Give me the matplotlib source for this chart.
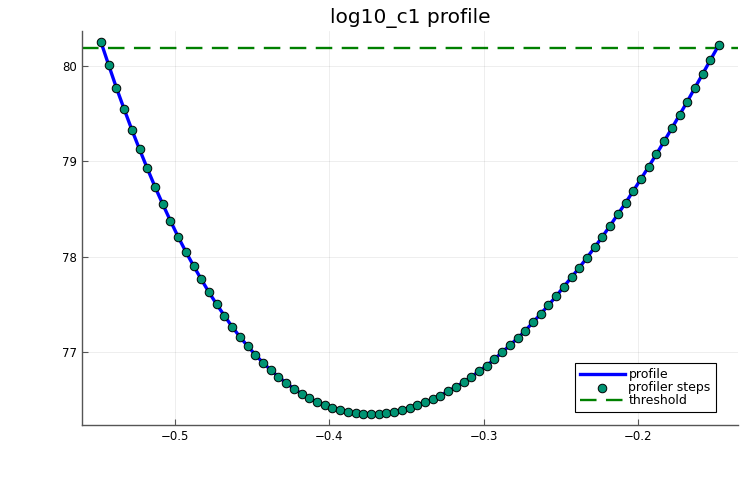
import matplotlib
matplotlib.use("Agg")
import matplotlib.pyplot as plt

# profile points (log10_c1 vs objective)
log10_c1 = [-0.5480, -0.5430, -0.5380, -0.5330, -0.5280, -0.5230, -0.5180, -0.5130,
            -0.5080, -0.5030, -0.4980, -0.4930, -0.4880, -0.4830, -0.4780, -0.4730,
            -0.4680, -0.4630, -0.4580, -0.4530, -0.4480, -0.4430, -0.4380, -0.4330,
            -0.4280, -0.4230, -0.4180, -0.4130, -0.4080, -0.4030, -0.3980, -0.3930,
            -0.3880, -0.3830, -0.3780, -0.3730, -0.3680, -0.3630, -0.3580, -0.3530,
            -0.3480, -0.3430, -0.3380, -0.3330, -0.3280, -0.3230, -0.3180, -0.3130,
            -0.3080, -0.3030, -0.2980, -0.2930, -0.2880, -0.2830, -0.2780, -0.2730,
            -0.2680, -0.2630, -0.2580, -0.2530, -0.2480, -0.2430, -0.2380, -0.2330,
            -0.2280, -0.2230, -0.2180, -0.2130, -0.2080, -0.2030, -0.1980, -0.1930,
            -0.1880, -0.1830, -0.1780, -0.1730, -0.1680, -0.1630, -0.1580, -0.1530,
            -0.1475]
objective = [80.252, 80.010, 79.772, 79.549, 79.332, 79.126, 78.927, 78.734,
             78.552, 78.377, 78.209, 78.052, 77.904, 77.763, 77.626, 77.500,
             77.381, 77.265, 77.160, 77.063, 76.972, 76.888, 76.811, 76.741,
             76.675, 76.615, 76.562, 76.517, 76.475, 76.444, 76.412, 76.388,
             76.371, 76.360, 76.353, 76.352, 76.353, 76.360, 76.371, 76.391,
             76.416, 76.441, 76.472, 76.504, 76.541, 76.588, 76.633, 76.682,
             76.738, 76.797, 76.856, 76.926, 76.997, 77.070, 77.144, 77.223,
             77.311, 77.399, 77.490, 77.584, 77.685, 77.784, 77.884, 77.989,
             78.098, 78.209, 78.325, 78.444, 78.563, 78.689, 78.815, 78.944,
             79.074, 79.210, 79.346, 79.486, 79.626, 79.772, 79.916, 80.063,
             80.220]
threshold = 80.19

plt.rcParams['font.family'] = ['DejaVu Sans']

fig = plt.figure(figsize=(7.5, 5), dpi=100)
ax = fig.add_axes([0.1093, 0.15, 0.8747, 0.788])

ax.plot(log10_c1, objective, color='blue', lw=2.4, label='profile', zorder=2)
ax.scatter(log10_c1, objective, s=38, color='#009473', edgecolors='black',
           linewidths=0.7, label='profiler steps', zorder=3)
ax.axhline(threshold, color='green', lw=1.7, ls=(0, (7, 4)), label='threshold', zorder=1)

ax.set_xlim(-0.5603, -0.1351)
ax.set_ylim(76.234, 80.367)
ax.set_xticks([-0.5, -0.4, -0.3, -0.2])
ax.set_yticks([77, 78, 79, 80])
ax.grid(True, color='black', alpha=0.08, lw=0.6)

for s in ['top', 'right']:
    ax.spines[s].set_visible(False)
for s in ['left', 'bottom']:
    ax.spines[s].set_color('#555555')
    ax.spines[s].set_linewidth(1.0)
ax.tick_params(direction='in', length=4, width=0.8, color='#555555', labelsize=8.5)

ax.set_title('log10_c1 profile', fontsize=14.5, pad=6)

leg = ax.legend(loc='lower right', fontsize=9, fancybox=False, edgecolor='black',
                framealpha=1, borderpad=0.4, labelspacing=0.0, handlelength=3.6,
                handletextpad=0.3, borderaxespad=0, bbox_to_anchor=(0.966, 0.033))
leg.get_frame().set_linewidth(0.8)

fig.savefig('out.png', dpi=100)
